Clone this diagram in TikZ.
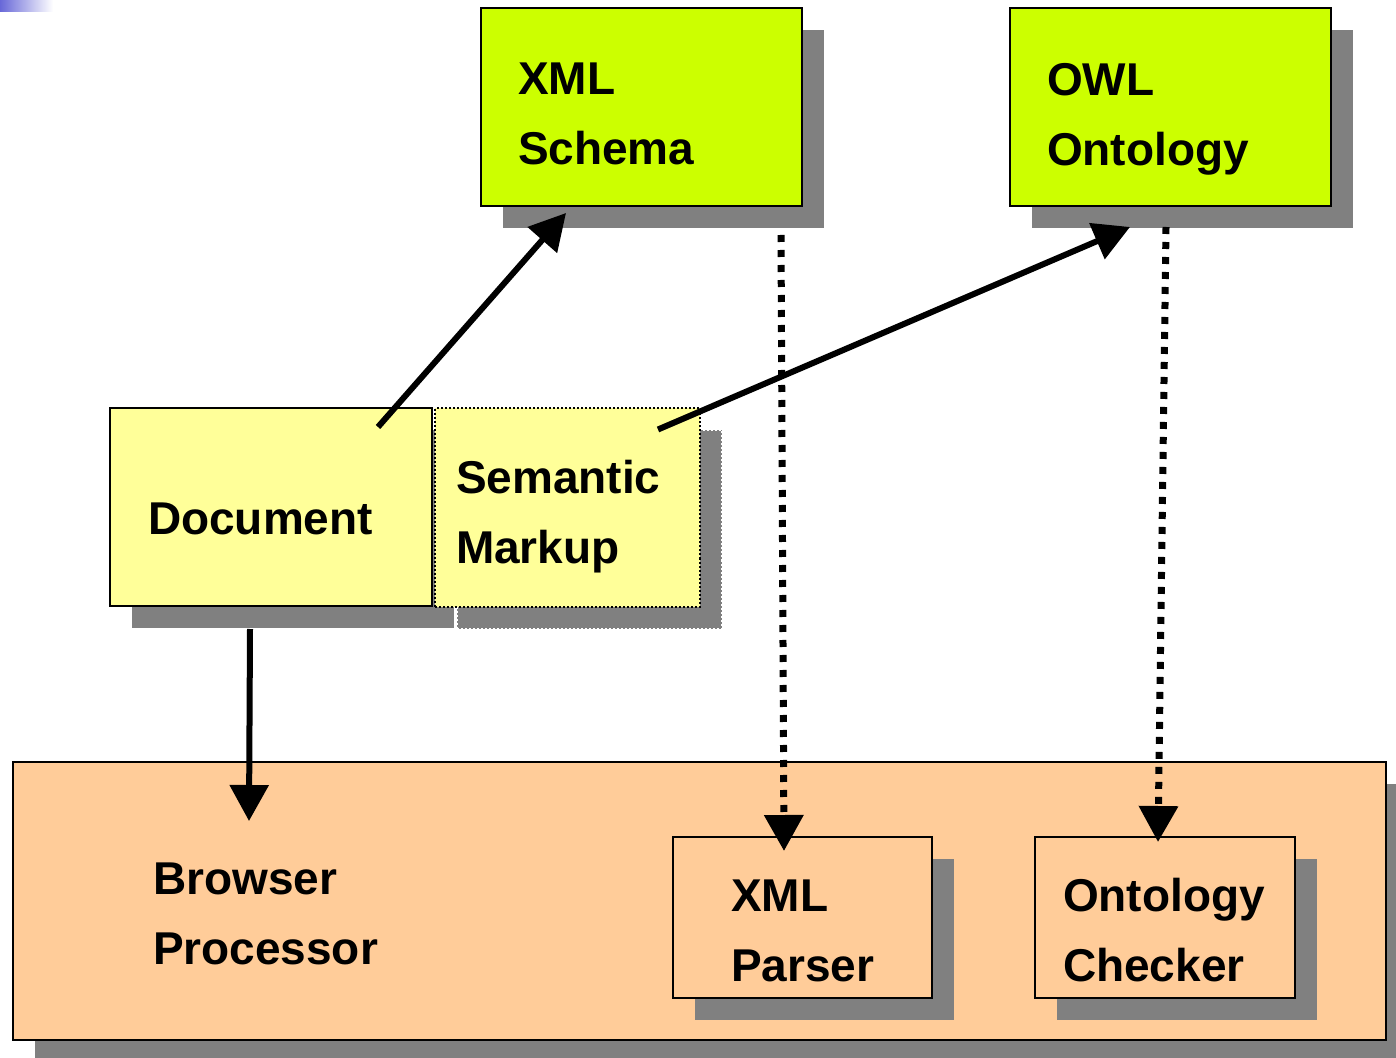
\documentclass[tikz,border=0pt]{standalone}
\usepackage{fontspec}
\setmainfont{Liberation Sans}
\usetikzlibrary{arrows.meta,shadows}
\definecolor{schemagreen}{HTML}{CCFF00}
\definecolor{docyellow}{HTML}{FFFF99}
\definecolor{procpeach}{HTML}{FFCC99}
\definecolor{shadowgray}{HTML}{808080}
\definecolor{cornerblue}{RGB}{104,104,216}
\begin{document}
\begin{tikzpicture}[x=0.5pt,y=-0.5pt,
    box/.style={draw=black,line width=1pt,rectangle,align=left,inner ysep=0pt,
      font=\fontsize{23}{35}\selectfont\bfseries},
    sh/.style={drop shadow={shadow xshift=11pt,shadow yshift=-11pt,
      fill=shadowgray,opacity=1,#1}},
    sh/.default={},
    arr/.style={line width=3pt,-{Triangle[length=18pt,width=19pt]}},
    dots/.style={line width=3.5pt,dash pattern=on 3.5pt off 4pt,
      -{Triangle[length=18pt,width=19pt]}}]
\useasboundingbox (0,0) rectangle (1396,1058);
\shade[left color=cornerblue,right color=white] (0,0) rectangle (53,12);

\node[box,sh,fill=schemagreen,minimum width=160.5pt,minimum height=99pt,
  text width=123.5pt,inner xsep=18.5pt,text height=23pt] (xsd) at (641.5,107) {XML\\Schema};
\node[box,sh,fill=schemagreen,minimum width=160.5pt,minimum height=99pt,
  text width=123.5pt,inner xsep=18.5pt,text height=28pt] (owl) at (1170.5,107) {OWL\\Ontology};

\node[box,sh,fill=docyellow,minimum width=161pt,minimum height=99pt,
  text width=123pt,inner xsep=19pt,text height=28pt] (doc) at (271,507) {Document};
\node[box,sh={draw=white,dash pattern=on 1pt off 1pt},fill=docyellow,
  dash pattern=on 1pt off 1pt,minimum width=132.5pt,minimum height=99pt,
  text width=111.5pt,inner xsep=10.5pt,text height=26pt] (sem) at (567.5,507.5) {Semantic\\Markup};

\node[box,sh,fill=procpeach,minimum width=686.5pt,minimum height=139pt,
  text width=546.5pt,inner xsep=70pt,text height=29pt] (brw) at (699.5,901) {Browser\\Processor};
\node[box,sh,fill=procpeach,minimum width=129.5pt,minimum height=80.5pt,
  text width=71.5pt,inner xsep=29pt,text height=29.5pt] (xpr) at (802.5,917.5) {XML\\Parser};
\node[box,sh,fill=procpeach,minimum width=130pt,minimum height=80.5pt,
  text width=102pt,inner xsep=14pt,text height=29.5pt] (chk) at (1165,917.5) {Ontology\\Checker};

% links
\draw[arr] ([shift={(-55,20)}]doc.north east) -- ([shift={(86,6)}]xsd.south west);
\draw[arr] ([shift={(-43,22)}]sem.north east) -- ([shift={(121,20)}]owl.south west);
\draw[arr] ([shift={(-21,22)}]doc.south) -- ([shift={(237,60)}]brw.north west);
\draw[dots] ([shift={(-22,28)}]xsd.south east) -- ([shift={(-18.5,15)}]xpr.north);
\draw[dots] ([shift={(-166,20)}]owl.south east) -- ([shift={(-7,6)}]chk.north);
\end{tikzpicture}
\end{document}
